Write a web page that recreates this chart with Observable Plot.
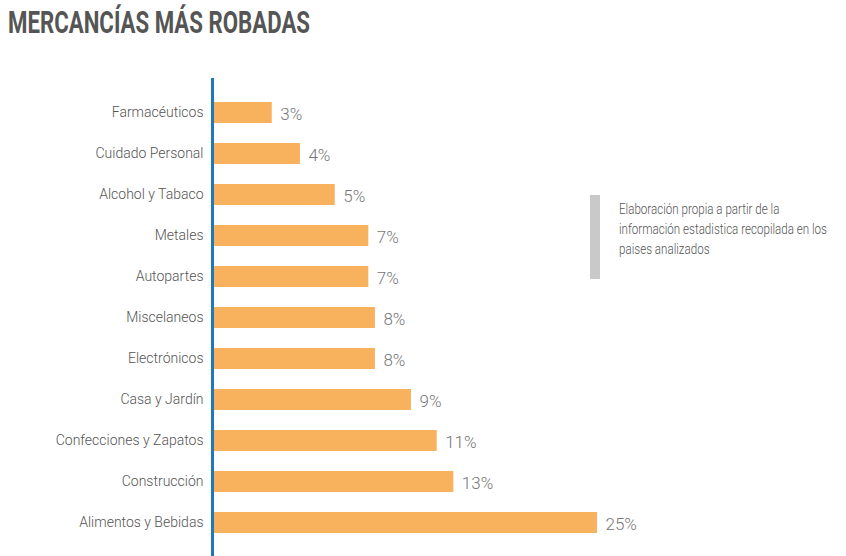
<!DOCTYPE html>
<html>
<head>
<meta charset="utf-8">
<script src="https://cdn.jsdelivr.net/npm/d3@7"></script>
<script src="https://cdn.jsdelivr.net/npm/@observablehq/plot@0.6"></script>
<style>
  html, body { margin: 0; padding: 0; background: #fff; }
  #wrap { position: relative; width: 846px; height: 556px; overflow: hidden; }
  #title {
    position: absolute; left: 8px; top: 3px;
    font-family: Roboto, sans-serif;
    font-weight: 700; font-size: 31px; line-height: 40px; color: #555; white-space: nowrap;
    transform-origin: 0 0; display: inline-block;
  }
  #chart { position: absolute; left: 0; top: 50px; }
  #notebar { position: absolute; left: 590px; top: 195px; width: 10px; height: 84px; background: #c9c9c9; }
  #note {
    position: absolute; left: 619px; top: 199px;
    font-family: Roboto, sans-serif; font-weight: 300;
    font-size: 14px; line-height: 20px; color: #555; white-space: nowrap;
    transform-origin: 0 0; display: inline-block;
  }
</style>
</head>
<body>
<div id="wrap">
  <div id="title">MERCANCÍAS MÁS ROBADAS</div>
  <div id="chart"></div>
  <div id="notebar"></div>
  <div id="note"><span>Elaboración propia a partir de la</span><br><span id="line2">información estadistica recopilada en los</span><br><span>paises analizados</span></div>
</div>
<script>
const categories = ["Farmacéuticos", "Cuidado Personal", "Alcohol y Tabaco", "Metales", "Autopartes", "Miscelaneos", "Electrónicos", "Casa y Jardín", "Confecciones y Zapatos", "Construcción", "Alimentos y Bebidas"];
// printed percentage labels
const shares = [3, 4, 5, 7, 7, 8, 8, 9, 11, 13, 25];
// bar lengths as drawn in the reference (in % units)
const barValues = [3.88, 5.71, 7.97, 10.15, 10.15, 10.58, 10.58, 12.92, 14.59, 15.67, 25];

const data = categories.map((c, i) => ({cat: c, share: shares[i], bar: barValues[i]}));

const fontFam = "Roboto, sans-serif";

const chart = Plot.plot({
  width: 846,
  height: 506,
  marginTop: 28,
  marginBottom: 0,
  marginLeft: 212,
  marginRight: 249,
  style: {fontFamily: fontFam, color: "#666", background: "transparent", fontWeight: 300},
  x: {domain: [0, 25], axis: null},
  y: {domain: categories, paddingInner: 0.49, paddingOuter: 0.52, axis: null},
  marks: [
    Plot.barX(data, {x: "bar", y: "cat", fill: "#f8b15d"}),
    Plot.axisY({tickSize: 0, tickPadding: 9, fontSize: 14, fill: "#555", label: null}),
    Plot.text(data, {x: "bar", y: "cat", text: d => d.share + "%", dx: 8, dy: 2, textAnchor: "start", fontSize: 17, fill: "#777"}),
    Plot.ruleX([0], {stroke: "#1f78b8", strokeWidth: 3})
  ]
});
document.getElementById("chart").appendChild(chart);

// condense the title to the reference's width
const t = document.getElementById("title");
t.style.transform = `scaleX(${302 / t.getBoundingClientRect().width})`;
// condense the note so its longest line matches the reference
const l2 = document.getElementById("line2");
document.getElementById("note").style.transform = `scaleX(${208 / l2.getBoundingClientRect().width})`;
</script>
</body>
</html>
